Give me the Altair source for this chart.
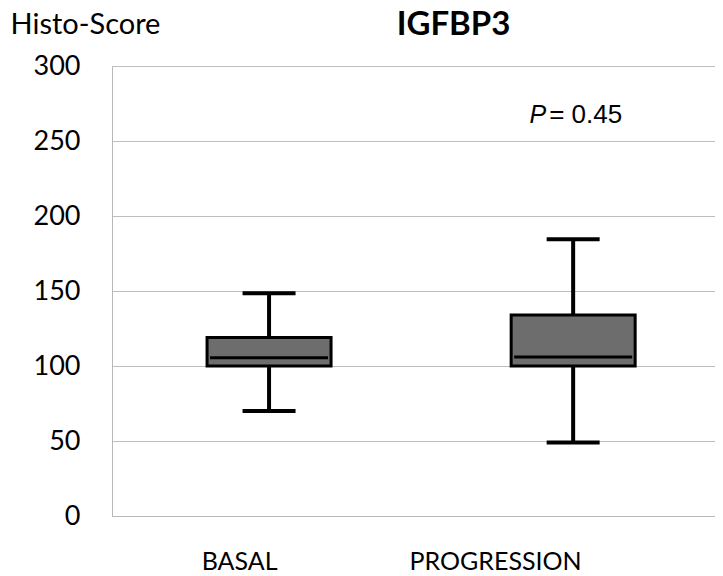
import altair as alt
import pandas as pd

groups = ["BASAL", "PROGRESSION"]
positions = [0, 1]
whisker_low = [70, 49]
q1 = [100, 100]
median = [105.5, 106]
q3 = [119, 134]
whisker_high = [148.5, 184.5]

p_label_pos = [1]
p_label_y = [262]

df = pd.DataFrame({
    "group": groups, "pos": positions, "low": whisker_low, "q1": q1,
    "median": median, "q3": q3, "high": whisker_high,
})
ann = pd.DataFrame({"pos": p_label_pos, "y": p_label_y})

FONT = "Lato"
xscale = alt.Scale(domain=[-0.5, 1.45], nice=False, zero=False)
yscale = alt.Scale(domain=[0, 300], nice=False)

xenc = alt.X("pos:Q", scale=xscale, title=None,
             axis=alt.Axis(values=[0, 1],
                           labelExpr="datum.value == 0 ? 'BASAL' : 'PROGRESSION'",
                           grid=False, ticks=False, domainColor="#b8b8b8",
                           labelFont=FONT, labelFontSize=25, labelColor="#000000",
                           labelAlign="right", labelOffset=8, labelPadding=33))
yaxis = alt.Axis(values=[0, 50, 100, 150, 200, 250, 300], grid=True,
                 gridColor="#bdbdbd", ticks=False, domainColor="#b8b8b8",
                 labelFont=FONT, labelFontSize=27, labelColor="#000000",
                 labelPadding=32, title="Histo-Score", titleAngle=0,
                 titleAlign="left", titleBaseline="alphabetic",
                 titleX=-102, titleY=-33, titleFont=FONT, titleFontSize=29,
                 titleFontWeight="normal", titleColor="#000000")

base = alt.Chart(df)

whisk = base.mark_rule(color="black", strokeWidth=4).encode(
    x=xenc, y=alt.Y("low:Q", scale=yscale, axis=yaxis), y2="high:Q")
caps_low = base.mark_tick(color="black", orient="horizontal", size=53, thickness=4,
                          opacity=1).encode(x="pos:Q", y="low:Q")
caps_high = base.mark_tick(color="black", orient="horizontal", size=53, thickness=4,
                           opacity=1).encode(x="pos:Q", y="high:Q")
box = base.mark_bar(size=124, fill="#6d6d6d", stroke="black", strokeWidth=3,
                    opacity=1).encode(x="pos:Q", y="q1:Q", y2="q3:Q")
med = base.mark_tick(color="black", orient="horizontal", size=118, thickness=3,
                     opacity=1).encode(x="pos:Q", y="median:Q")

p_ital = alt.Chart(ann).mark_text(text="P", font="Liberation Sans", fontSize=25,
                                  fontStyle="italic", align="right", baseline="alphabetic",
                                  dx=-27, color="black").encode(x="pos:Q", y="y:Q")
p_rest = alt.Chart(ann).mark_text(text="= 0.45", font="Liberation Sans", fontSize=26,
                                  align="left", baseline="alphabetic",
                                  dx=-24, color="black").encode(x="pos:Q", y="y:Q")

chart = alt.layer(whisk, caps_low, caps_high, box, med, p_ital, p_rest).properties(
    width=603, height=450,
    title=alt.TitleParams("IGFBP3", font=FONT, fontSize=33, fontWeight="bold",
                          anchor="middle", frame="group", dx=40, offset=-32,
                          color="#000000"),
    autosize=alt.AutoSizeParams(type="none"),
    padding={"left": 104, "top": 58, "right": 0, "bottom": 60},
).configure_view(strokeWidth=0).configure(background="white")

chart.save("out.html", embed_options={"renderer": "svg", "actions": False})
